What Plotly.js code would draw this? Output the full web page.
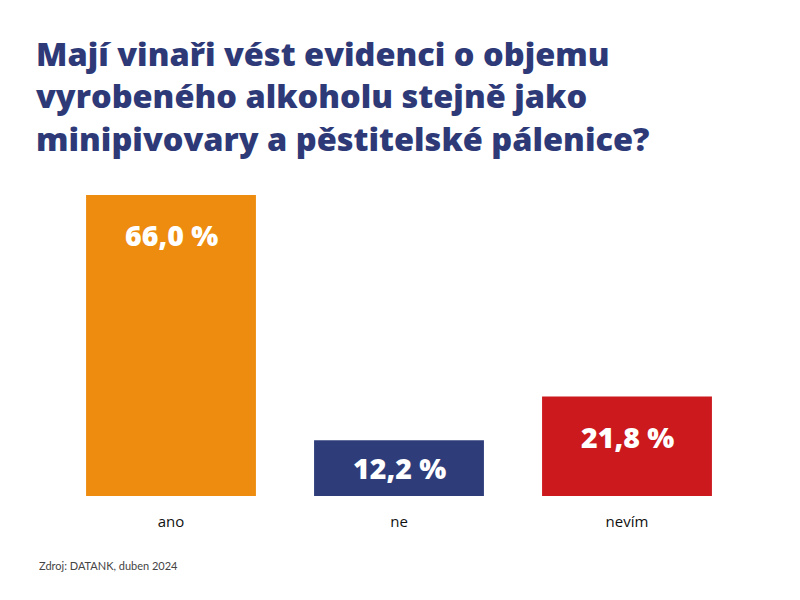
<!DOCTYPE html>
<html>
<head>
<meta charset="utf-8">
<script src="https://cdn.plot.ly/plotly-3.0.1.min.js"></script>
<style>html,body{margin:0;padding:0;background:#fff;}#chart{width:800px;height:600px;}</style>
</head>
<body>
<div id="chart"></div>
<script>
const categories = ["ano", "ne", "nevím"];
const values = [66.0, 12.2, 21.8];
const labels = ["66,0 %", "12,2 %", "21,8 %"];
const colors = ["#ED8C0E", "#2E3D7A", "#CB191D"];
const titleText = "Mají vinaři vést evidenci o objemu<br>vyrobeného alkoholu stejně jako<br>minipivovary a pěstitelské pálenice?";
const sourceText = "Zdroj: DATANK, duben 2024";

const marginT = 195, marginB = 104;
const plotH = 600 - marginT - marginB;
const yMax = 66;
const pxPerUnit = plotH / yMax;

const annotations = categories.map((c, i) => ({
  x: c, y: values[i], xref: 'x', yref: 'y',
  text: labels[i], showarrow: false,
  yanchor: 'middle',
  yshift: -Math.min(40, values[i] * pxPerUnit / 2),
  font: {family: 'Open Sans', size: 28.5, color: '#ffffff', weight: 800}
}));
annotations.push({
  text: sourceText, xref: 'paper', yref: 'paper',
  x: -0.029, y: -0.23, xanchor: 'left', yanchor: 'middle', showarrow: false,
  font: {family: 'Lato', size: 11, color: '#444444'}
});

Plotly.newPlot('chart', [{
  type: 'bar', x: categories, y: values,
  marker: {color: colors},
  hoverinfo: 'none'
}], {
  width: 800, height: 600,
  margin: {l: 57, r: 59, t: marginT, b: marginB},
  paper_bgcolor: '#ffffff', plot_bgcolor: '#ffffff',
  bargap: 0.255,
  showlegend: false,
  title: {
    text: titleText, xref: 'container', yref: 'container',
    x: 0.045, xanchor: 'left', y: 0.89, yanchor: 'top',
    font: {family: 'Open Sans', size: 32.5, color: '#2E3A78', weight: 800}
  },
  xaxis: {
    showgrid: false, zeroline: false, showline: false, ticks: '',
    tickfont: {family: 'Open Sans', size: 15, color: '#111111'},
    ticklabelstandoff: 15
  },
  yaxis: {
    range: [0, yMax], visible: false, showgrid: false, zeroline: false
  },
  annotations: annotations
}, {displayModeBar: false, staticPlot: true});
</script>
</body>
</html>
